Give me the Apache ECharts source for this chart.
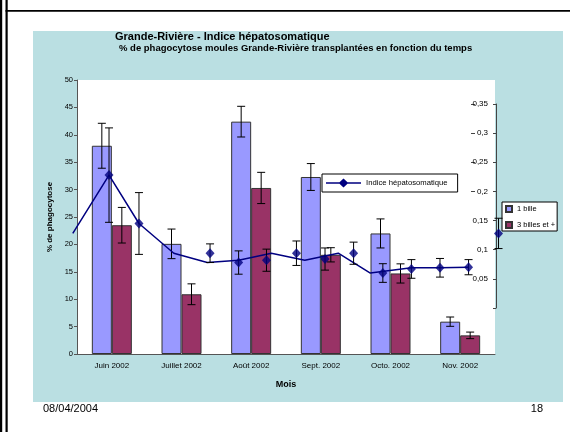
<!DOCTYPE html>
<html><head><meta charset="utf-8">
<script src="https://cdn.jsdelivr.net/npm/echarts@6/dist/echarts.min.js"></script>
<style>html,body{margin:0;padding:0;background:#fff}#c{width:570px;height:432px}</style>
</head><body><div id="c"></div>
<script>
// ---- data ----
const months = ['Juin 2002', 'Juillet 2002', 'Août 2002', 'Sept. 2002', 'Octo. 2002', 'Nov. 2002'];
const oneBille = [38.0, 20.1, 42.4, 32.3, 22.0, 5.9];
const oneBilleErr = [4.1, 2.7, 2.8, 2.45, 2.65, 0.85];
const threeBilles = [23.5, 10.9, 30.3, 18.1, 14.7, 3.4];
const threeBillesErr = [3.25, 1.9, 2.85, 1.3, 1.75, 0.6];
// Indice hépatosomatique: position along the month axis (0 = start of June) and value
const ihsPos = [0.46, 0.89, 1.91, 2.32, 2.72, 3.15, 3.56, 3.97, 4.39, 4.80, 5.21, 5.62, 6.05];
const ihsVal = [0.228, 0.145, 0.094, 0.078, 0.082, 0.094, 0.084, 0.094, 0.060, 0.067, 0.069, 0.070, 0.128];
const ihsErr = [0.081, 0.053, 0.016, 0.020, 0.019, 0.021, 0.019, 0.019, 0.016, 0.016, 0.016, 0.013, 0.026];
const ihsLinePos = [-0.06, 0.46, 0.89, 1.39, 1.87, 2.32, 2.79, 3.27, 3.75, 4.21, 4.80, 5.21, 5.62];
const ihsLineVal = [0.128, 0.228, 0.145, 0.094, 0.078, 0.082, 0.094, 0.082, 0.094, 0.060, 0.069, 0.069, 0.070];
const phagoTicks = {min: 0, max: 50, step: 5};
const ihsTicks = {min: 0, max: 0.35, step: 0.05};
const ihsDashTicks = [0.2, 0.25, 0.3, 0.35];

// ---- rendering ----
const FONT = '"Liberation Sans", Arial, sans-serif';
const BAR_W = 20, CAP = 8;
function errShape(x, y1, y2) {
  const s = {stroke: '#000', lineWidth: 1};
  const c = CAP / 2;
  return {type: 'group', children: [
    {type: 'line', shape: {x1: x, y1: y1, x2: x, y2: y2}, style: s},
    {type: 'line', shape: {x1: x - c, y1: y1, x2: x + c, y2: y1}, style: s},
    {type: 'line', shape: {x1: x - c, y1: y2, x2: x + c, y2: y2}, style: s}
  ]};
}
function barErr(sign) {
  return function (params, api) {
    const i = api.value(0), v = api.value(1), e = api.value(2);
    const t = api.coord([i, v + e]), b = api.coord([i, v - e]);
    return errShape(t[0] + sign * BAR_W / 2, t[1], b[1]);
  };
}
function ptErr(params, api) {
  const x = api.value(0), v = api.value(1), e = api.value(2);
  const t = api.coord([x, v + e]), b = api.coord([x, v - e]);
  return errShape(t[0], t[1], b[1]);
}
const fmtComma = v => v === 0 ? '' : String(+v.toFixed(2)).replace('.', ',');

const chart = echarts.init(document.getElementById('c'), null, {renderer: 'canvas'});
chart.setOption({
  animation: false,
  textStyle: {fontFamily: FONT, color: '#000'},
  graphic: [
    {type: 'rect', shape: {x: 33, y: 31, width: 530, height: 371}, style: {fill: '#BADFE2'}, z: -10},
    {type: 'rect', shape: {x: 0, y: 0, width: 2.2, height: 432}, style: {fill: '#000'}, z: 100},
    {type: 'rect', shape: {x: 5.5, y: 0, width: 2.2, height: 432}, style: {fill: '#000'}, z: 100},
    {type: 'rect', shape: {x: 5.5, y: 10, width: 565, height: 1.8}, style: {fill: '#000'}, z: 100}
  ],
  title: [
    {text: 'Grande-Rivière - Indice hépatosomatique', left: 115, top: 31, padding: 0,
     textStyle: {fontSize: 11, fontWeight: 'bold', fontFamily: FONT, color: '#000'}},
    {text: '% de phagocytose moules Grande-Rivière transplantées en fonction du temps', left: 119, top: 43.5, padding: 0,
     textStyle: {fontSize: 9.5, fontWeight: 'bold', fontFamily: FONT, color: '#000'}},
    {text: '08/04/2004', left: 43, top: 403, padding: 0,
     textStyle: {fontSize: 11, fontWeight: 'normal', fontFamily: FONT, color: '#000'}},
    {text: '18', right: 27, top: 403, padding: 0,
     textStyle: {fontSize: 11, fontWeight: 'normal', fontFamily: FONT, color: '#000'}}
  ],
  legend: [
    {data: [{name: 'Indice hépatosomatique',
             icon: 'path://M0,3.8H13.5L17.5,0L21.5,3.8H35V5.2H21.5L17.5,9L13.5,5.2H0Z'}],
     left: 322, top: 174, padding: [4, 10, 4, 4], itemWidth: 35, itemHeight: 9,
     backgroundColor: '#fff', borderColor: '#000', borderWidth: 1, borderRadius: 0,
     selectedMode: false,
     textStyle: {fontSize: 7.7, lineHeight: 10, fontFamily: FONT, color: '#000'}},
    {data: ['1 bille', '3 billes et +'], orient: 'vertical', left: 502, top: 202,
     padding: [2, 2, 1, 3], itemGap: 6, itemWidth: 6, itemHeight: 6, icon: 'rect',
     backgroundColor: '#fff', borderColor: '#000', borderWidth: 1, borderRadius: 0,
     selectedMode: false,
     textStyle: {fontSize: 7.5, lineHeight: 10, fontFamily: FONT, color: '#000'}}
  ],
  grid: [
    {left: 77, right: 75, top: 80, bottom: 78, show: true, backgroundColor: '#fff', borderWidth: 0},
    {left: 70, right: 68, top: 104, bottom: 124, show: false}
  ],
  xAxis: [
    {gridIndex: 0, type: 'category', data: months,
     axisLine: {lineStyle: {color: '#555', width: 1}},
     axisTick: {length: 3, lineStyle: {color: '#555'}},
     axisLabel: {interval: 0, fontSize: 8, margin: 8, color: '#000', fontFamily: FONT},
     name: 'Mois', nameLocation: 'middle', nameGap: 26,
     nameTextStyle: {fontSize: 9, fontWeight: 'bold', color: '#000', fontFamily: FONT}},
    {gridIndex: 1, type: 'value', min: -0.1, max: 6.1, show: false}
  ],
  yAxis: [
    {gridIndex: 0, type: 'value', min: phagoTicks.min, max: phagoTicks.max, interval: phagoTicks.step,
     axisLine: {show: true, lineStyle: {color: '#555'}},
     axisTick: {show: true, length: 3, lineStyle: {color: '#555'}},
     axisLabel: {fontSize: 7.5, margin: 4, color: '#000', fontFamily: FONT},
     splitLine: {show: false},
     name: '% de phagocytose', nameLocation: 'middle', nameGap: 20, nameRotate: 90,
     nameTextStyle: {fontSize: 8, fontWeight: 'bold', color: '#000', fontFamily: FONT}},
    {gridIndex: 1, type: 'value', position: 'right', offset: -6,
     min: ihsTicks.min, max: ihsTicks.max, interval: ihsTicks.step,
     axisLine: {show: true, onZero: false, lineStyle: {color: '#444'}},
     axisTick: {show: true, inside: true, length: 3, lineStyle: {color: '#444'}},
     axisLabel: {inside: true, margin: 8, fontSize: 8, color: '#000', fontFamily: FONT, formatter: fmtComma},
     splitLine: {show: false}},
    {gridIndex: 1, type: 'value', position: 'right', offset: -31,
     min: ihsTicks.min, max: ihsTicks.max, interval: ihsTicks.step,
     axisLine: {show: false, onZero: false},
     axisTick: {show: true, length: 4, customValues: ihsDashTicks, lineStyle: {color: '#444'}},
     axisLabel: {show: false}, splitLine: {show: false}}
  ],
  series: [
    {name: '1 bille', type: 'bar', xAxisIndex: 0, yAxisIndex: 0, data: oneBille,
     barWidth: BAR_W, barGap: '0%', itemStyle: {color: '#9999FF', borderColor: '#333', borderWidth: 1}},
    {name: '3 billes et +', type: 'bar', xAxisIndex: 0, yAxisIndex: 0, data: threeBilles,
     barWidth: BAR_W, barGap: '0%', itemStyle: {color: '#993366', borderColor: '#333', borderWidth: 1}},
    {name: 'err1', type: 'custom', xAxisIndex: 0, yAxisIndex: 0, z: 3,
     data: months.map((m, i) => [m, oneBille[i], oneBilleErr[i]]), renderItem: barErr(-1), encode: {x: 0, y: 1}},
    {name: 'err3', type: 'custom', xAxisIndex: 0, yAxisIndex: 0, z: 3,
     data: months.map((m, i) => [m, threeBilles[i], threeBillesErr[i]]), renderItem: barErr(1), encode: {x: 0, y: 1}},
    {name: 'Indice hépatosomatique', type: 'line', xAxisIndex: 1, yAxisIndex: 1, z: 4,
     data: ihsLinePos.map((p, i) => [p, ihsLineVal[i]]), symbol: 'none', color: '#000080',
     lineStyle: {color: '#000080', width: 1.5}},
    {name: 'ihsPts', type: 'scatter', xAxisIndex: 1, yAxisIndex: 1, z: 5,
     data: ihsPos.map((p, i) => [p, ihsVal[i]]), symbol: 'diamond', symbolSize: [9, 10],
     itemStyle: {color: '#000080'}},
    {name: 'ihsErr', type: 'custom', xAxisIndex: 1, yAxisIndex: 1, z: 5,
     data: ihsPos.map((p, i) => [p, ihsVal[i], ihsErr[i]]), renderItem: ptErr, encode: {x: 0, y: 1}}
  ]
});
</script>
</body></html>
